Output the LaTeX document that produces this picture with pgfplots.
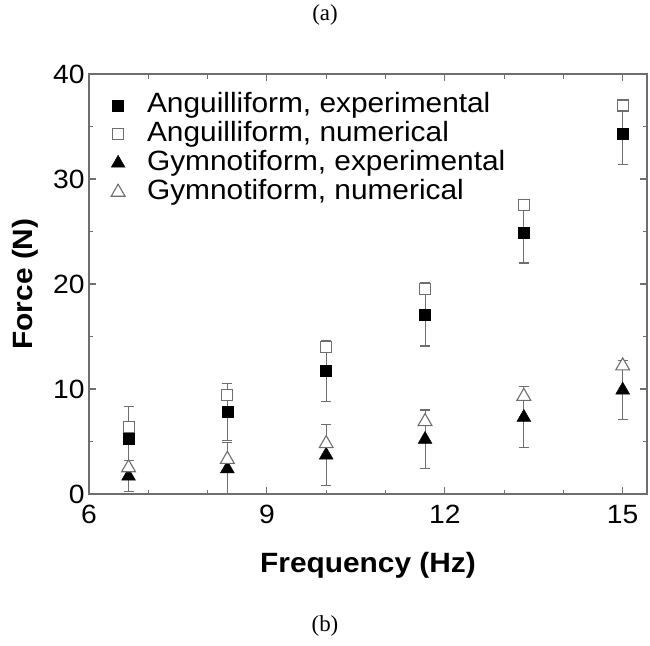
\documentclass[border=0pt]{standalone}
\usepackage{pgfplots}
\pgfplotsset{compat=1.18}
\usepackage{fontspec}
\setmainfont{Liberation Sans}[FakeStretch=1.07]
\newfontfamily\capfont{Liberation Serif}
\definecolor{axgray}{HTML}{6E6E6E}
\begin{document}
\begin{tikzpicture}
\path[use as bounding box] (-89bp,-152bp) rectangle (561bp,494bp);
\node[font=\capfont\fontsize{23}{23}\selectfont] at (236bp,479bp) {(a)};
\node[font=\capfont\fontsize{23}{23}\selectfont] at (236bp,-132bp) {(b)};
\begin{axis}[at={(0,0)}, anchor=south west, scale only axis,
  width=558bp, height=420bp,
  xmin=6, xmax=15.41, ymin=0, ymax=40,
  xtick={6,9,12,15}, minor xtick={7,8,10,11,13,14},
  ytick={0,10,20,30,40}, minor ytick={5,15,25,35},
  tick align=inside,
  major tick length=7bp, minor tick length=4.5bp,
  axis line style={axgray, line width=1.1bp},
  every tick/.style={axgray, line width=1.1bp},
  /pgf/number format/assume math mode=true,
  tick label style={font=\fontsize{26.5}{26.5}\selectfont},
  xticklabel style={yshift=-8bp},
  yticklabel style={xshift=-1bp},
  xlabel={Frequency (Hz)}, ylabel={Force (N)},
  label style={font=\fontsize{28}{28}\selectfont\bfseries},
  xlabel style={yshift=-21bp},
  ylabel style={yshift=8bp},
  legend image code/.code={\draw[mark repeat=2,mark phase=2,#1] plot coordinates {(0bp,0bp) (10bp,0bp) (20bp,0bp)};},
  legend style={draw=none, fill=none, at={(22bp,405bp)}, anchor=north west,
    font=\fontsize{28}{28}\selectfont, row sep=-1bp, inner sep=0bp,
    nodes={inner sep=2bp, text height=20bp, text depth=6bp}, /tikz/column sep=20bp},
  legend cell align=left,
  error bars/error bar style={axgray, line width=1.1bp},
  error bars/error mark options={rotate=90, axgray, mark size=5bp, line width=1.1bp},
]
% Anguilliform, experimental
\addplot[only marks, mark=square*, mark size=5.5bp, mark options={fill=black, draw=black},
  error bars/.cd, y dir=both, y explicit]
  coordinates {
    (6.667,5.3) +- (0,3.0)
    (8.333,7.8) +- (0,2.7)
    (10,11.7) +- (0,2.9)
    (11.667,17.1) +- (0,3.0)
    (13.333,24.9) +- (0,2.9)
    (15,34.3) +- (0,2.9)
  };
\addlegendentry{Anguilliform, experimental}
% Anguilliform, numerical
\addplot[only marks, mark=square*, mark size=5.5bp, mark options={fill=white, draw=axgray, line width=1.1bp}]
  coordinates {
    (6.667,6.4) (8.333,9.4) (10,14.0) (11.667,19.5) (13.333,27.5) (15,37.0)
  };
\addlegendentry{Anguilliform, numerical}
% Gymnotiform, experimental
\addplot[only marks, mark=triangle*, mark size=8bp, mark options={fill=black, draw=black},
  error bars/.cd, y dir=both, y explicit]
  coordinates {
    (6.667,1.7) +- (0,1.5)
    (8.333,2.4) +- (0,2.5)
    (10,3.7) +- (0,2.9)
    (11.667,5.2) +- (0,2.8)
    (13.333,7.3) +- (0,2.9)
    (15,9.9) +- (0,2.8)
  };
\addlegendentry{Gymnotiform, experimental}
% Gymnotiform, numerical
\addplot[only marks, mark=triangle*, mark size=8bp, mark options={fill=white, draw=axgray, line width=1.1bp}]
  coordinates {
    (6.667,2.5) (8.333,3.3) (10,4.8) (11.667,6.9) (13.333,9.3) (15,12.2)
  };
\addlegendentry{Gymnotiform, numerical}
\end{axis}
\end{tikzpicture}
\end{document}
